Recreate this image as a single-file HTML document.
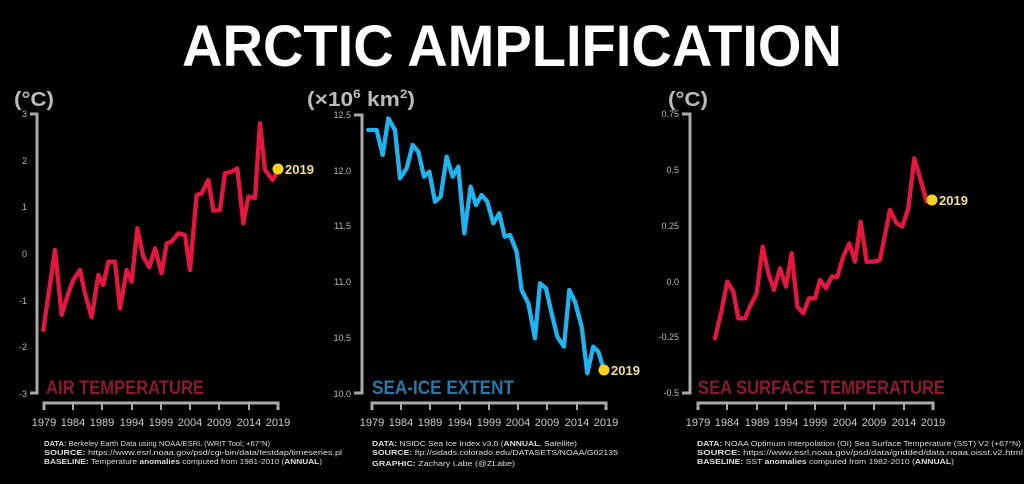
<!DOCTYPE html>
<html><head><meta charset="utf-8"><style>
html,body{margin:0;padding:0;background:#000;}
svg{display:block;font-family:"Liberation Sans",sans-serif;}
</style></head><body>
<svg width="1024" height="484" viewBox="0 0 1024 484">
<rect width="1024" height="484" fill="#000"/>
<text x="512" y="66" fill="#fff" font-size="58" font-weight="bold" text-anchor="middle" textLength="660" lengthAdjust="spacingAndGlyphs">ARCTIC AMPLIFICATION</text>

<g fill="#bbb" font-size="20" font-weight="bold">
<text x="14" y="106" textLength="40" lengthAdjust="spacingAndGlyphs">(°C)</text>
<text x="307" y="106" textLength="108" lengthAdjust="spacingAndGlyphs">(×10<tspan font-size="12" dy="-8">6</tspan><tspan dy="8"> km</tspan><tspan font-size="12" dy="-8">2</tspan><tspan dy="8">)</tspan></text>
<text x="668" y="106" textLength="40" lengthAdjust="spacingAndGlyphs">(°C)</text>
</g>

<!-- axes -->
<g stroke="#aaa" stroke-width="3" fill="none">
<path d="M30 114 H37 V393 H30"/>
<path d="M354 115 H362 V393 H354"/>
<path d="M682 114 H690 V393 H682"/>
<path d="M44 410 V403 H278 V410"/>
<path d="M372 410 V403 H606 V410"/>
<path d="M698 410 V403 H933 V410"/>
</g>
<g stroke="#aaa" stroke-width="2">
<path d="M73 403 V410 M102 403 V410 M132 403 V410 M161 403 V410 M190 403 V410 M219 403 V410 M249 403 V410"/>
<path d="M401 403 V410 M430 403 V410 M460 403 V410 M489 403 V410 M518 403 V410 M547 403 V410 M577 403 V410"/>
<path d="M727 403 V410 M757 403 V410 M786 403 V410 M815 403 V410 M845 403 V410 M874 403 V410 M904 403 V410"/>
</g>

<g fill="#bbb" font-size="9" text-anchor="end">
<text x="27" y="117">3</text><text x="27" y="164">2</text><text x="27" y="210">1</text><text x="27" y="257">0</text><text x="27" y="304">-1</text><text x="27" y="350">-2</text><text x="27" y="397">-3</text>
<text x="351" y="118">12.5</text><text x="351" y="174">12.0</text><text x="351" y="229">11.5</text><text x="351" y="285">11.0</text><text x="351" y="341">10.5</text><text x="351" y="397">10.0</text>
<text x="679" y="117">0.75</text><text x="679" y="173">0.5</text><text x="679" y="229">0.25</text><text x="679" y="285">0.0</text><text x="679" y="340">-0.25</text><text x="679" y="396">-0.5</text>
</g>

<g fill="#ccc" font-size="11" text-anchor="middle">
<text x="44" y="426">1979</text><text x="73" y="426">1984</text><text x="102" y="426">1989</text><text x="132" y="426">1994</text><text x="161" y="426">1999</text><text x="190" y="426">2004</text><text x="219" y="426">2009</text><text x="249" y="426">2014</text><text x="278" y="426">2019</text>
<text x="372" y="426">1979</text><text x="401" y="426">1984</text><text x="430" y="426">1989</text><text x="460" y="426">1994</text><text x="489" y="426">1999</text><text x="518" y="426">2004</text><text x="547" y="426">2009</text><text x="577" y="426">2014</text><text x="606" y="426">2019</text>
<text x="698" y="426">1979</text><text x="727" y="426">1984</text><text x="757" y="426">1989</text><text x="786" y="426">1994</text><text x="815" y="426">1999</text><text x="845" y="426">2004</text><text x="874" y="426">2009</text><text x="904" y="426">2014</text><text x="933" y="426">2019</text>
</g>

<g font-size="19" font-weight="bold">
<text x="46" y="394" fill="#8a1a30" textLength="158" lengthAdjust="spacingAndGlyphs">AIR TEMPERATURE</text>
<text x="372" y="394" fill="#2a78a8" textLength="142" lengthAdjust="spacingAndGlyphs">SEA-ICE EXTENT</text>
<text x="698" y="394" fill="#8a1a30" textLength="247" lengthAdjust="spacingAndGlyphs">SEA SURFACE TEMPERATURE</text>
</g>

<g fill="none" stroke-linejoin="round" stroke-linecap="round" stroke-width="13">
<polyline transform="translate(0,80) scale(0.3333)" stroke="#e3173f" points="130,750 165,510 185,705 205,640 220,600 240,570 255,640 275,712 295,585 310,615 325,545 345,545 360,685 380,570 395,605 412,445 430,530 448,562 465,505 485,580 500,490 515,485 535,460 555,465 570,570 590,345 605,340 625,300 640,392 660,390 675,280 695,275 712,265 730,430 745,350 765,355 780,130 795,270 818,300 835,268"/>
<polyline transform="translate(300,80) scale(0.3333)" stroke="#1fb3f0" points="205,150 230,150 248,225 265,115 285,150 300,295 320,265 338,195 355,215 372,290 388,275 405,365 422,350 440,230 458,290 475,260 493,460 512,320 528,375 545,345 562,365 580,430 598,400 614,470 630,465 650,515 665,630 685,670 705,775 720,610 738,625 755,700 772,770 792,800 808,630 825,665 845,740 862,880 880,800 895,815 912,870"/>
<polyline transform="translate(650,80) scale(0.3333)" stroke="#e3173f" points="195,775 215,690 232,605 250,635 265,715 285,715 300,680 320,640 338,500 355,580 372,630 390,565 408,620 425,520 442,680 460,700 477,655 495,655 510,600 528,625 545,590 562,590 580,530 598,490 615,545 632,425 650,545 670,545 690,540 720,390 740,430 757,440 775,385 793,235 812,300 830,365 845,362"/>
</g>

<g fill="#ffd21f">
<circle cx="278" cy="169" r="5.5"/><circle cx="604" cy="370" r="5.5"/><circle cx="932" cy="200" r="5.5"/>
</g>
<g fill="#f5e07a" font-size="13" font-weight="bold">
<text x="285" y="174">2019</text><text x="611" y="375">2019</text><text x="939" y="205">2019</text>
</g>

<g fill="#ddd" font-size="7.5">
<text x="44" y="446" textLength="226" lengthAdjust="spacingAndGlyphs"><tspan font-weight="bold">DATA:</tspan> Berkeley Earth Data using NOAA/ESRL (WRIT Tool; +67°N)</text>
<text x="44" y="455" textLength="298" lengthAdjust="spacingAndGlyphs"><tspan font-weight="bold">SOURCE:</tspan> https://www.esrl.noaa.gov/psd/cgi-bin/data/testdap/timeseries.pl</text>
<text x="44" y="464" textLength="278" lengthAdjust="spacingAndGlyphs"><tspan font-weight="bold">BASELINE:</tspan> Temperature <tspan font-weight="bold">anomalies</tspan> computed from 1981-2010 (<tspan font-weight="bold">ANNUAL</tspan>)</text>
<text x="372" y="446" textLength="205" lengthAdjust="spacingAndGlyphs"><tspan font-weight="bold">DATA:</tspan> NSIDC Sea Ice Index v3.0 (<tspan font-weight="bold">ANNUAL</tspan>, Satellite)</text>
<text x="372" y="455" textLength="246" lengthAdjust="spacingAndGlyphs"><tspan font-weight="bold">SOURCE:</tspan> ftp://sidads.colorado.edu/DATASETS/NOAA/G02135</text>
<text x="372" y="466" textLength="143" lengthAdjust="spacingAndGlyphs"><tspan font-weight="bold">GRAPHIC:</tspan> Zachary Labe (@ZLabe)</text>
<text x="697" y="446" textLength="324" lengthAdjust="spacingAndGlyphs"><tspan font-weight="bold">DATA:</tspan> NOAA Optimum Interpolation (OI) Sea Surface Temperature (SST) V2 (+67°N)</text>
<text x="697" y="455" textLength="326" lengthAdjust="spacingAndGlyphs"><tspan font-weight="bold">SOURCE:</tspan> https://www.esrl.noaa.gov/psd/data/gridded/data.noaa.oisst.v2.html</text>
<text x="697" y="464" textLength="257" lengthAdjust="spacingAndGlyphs"><tspan font-weight="bold">BASELINE:</tspan> SST <tspan font-weight="bold">anomalies</tspan> computed from 1982-2010 (<tspan font-weight="bold">ANNUAL</tspan>)</text>
</g>
</svg>
</body></html>
